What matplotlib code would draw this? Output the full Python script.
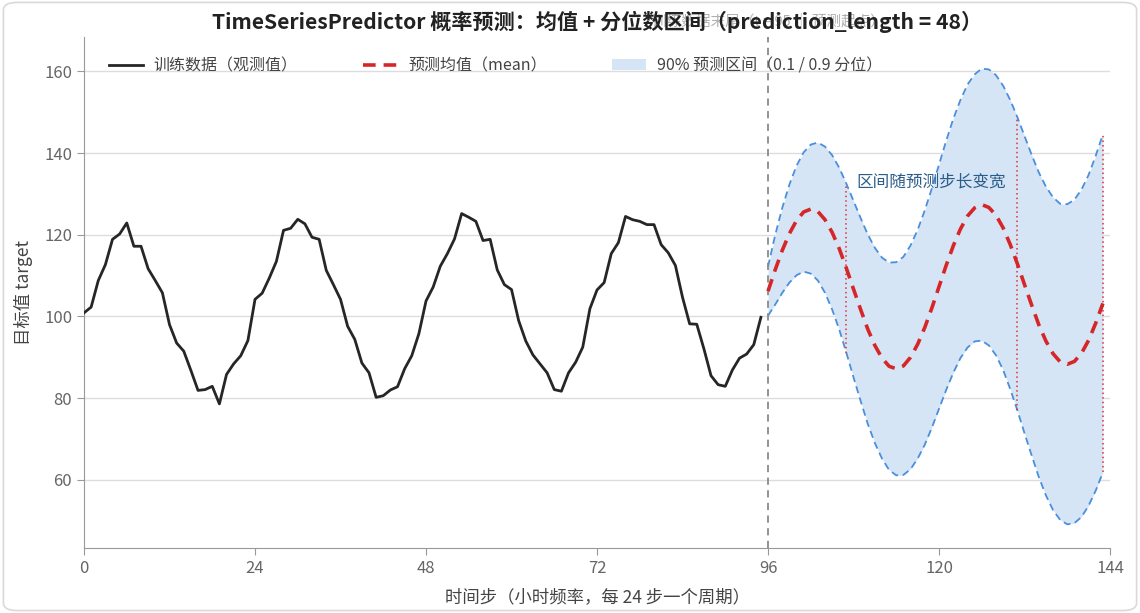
import numpy as np
import matplotlib.pyplot as plt
from matplotlib.patches import FancyBboxPatch, Patch
from matplotlib.lines import Line2D

plt.rcParams['font.family'] = ['Noto Sans CJK SC', 'DejaVu Sans']

# observed training series, t = 0..95
train = [100.9, 102.3, 108.8, 112.7, 118.9, 120.2, 122.9, 117.2, 117.2, 111.7,
         108.8, 105.8, 98.0, 93.5, 91.5, 86.8, 81.9, 82.1, 82.9, 78.6,
         85.8, 88.4, 90.4, 94.1, 104.2, 105.7, 109.4, 113.5, 121.1, 121.6,
         123.8, 122.7, 119.4, 118.9, 111.3, 107.8, 104.2, 97.6, 94.4, 88.6,
         86.2, 80.2, 80.6, 82.0, 82.8, 87.2, 90.4, 95.8, 103.8, 107.2,
         112.3, 115.4, 119.0, 125.2, 124.3, 123.3, 118.6, 118.9, 111.4, 107.8,
         106.6, 99.0, 94.0, 90.6, 88.4, 86.2, 82.1, 81.7, 86.2, 88.8,
         92.5, 101.9, 106.5, 108.3, 115.4, 118.1, 124.5, 123.7, 123.3, 122.5,
         122.5, 117.6, 115.6, 112.5, 104.7, 98.2, 98.1, 92.1, 85.5, 83.3,
         82.9, 86.9, 89.8, 90.8, 93.1, 99.8]

# forecast, t = 96..143
mean = [106.2, 111.4, 116.2, 120.3, 123.5, 125.6, 126.3, 125.7, 123.7, 120.6,
        116.6, 111.8, 106.7, 101.7, 96.9, 92.9, 89.8, 87.8, 87.2, 87.9,
        90.0, 93.2, 97.3, 102.1, 107.3, 112.5, 117.3, 121.4, 124.6, 126.6,
        127.4, 126.7, 124.8, 121.7, 117.6, 112.9, 107.8, 102.8, 98.0, 94.0,
        90.9, 88.9, 88.3, 89.0, 91.0, 94.2, 98.4, 103.2]
upper = [112.2, 119.9, 126.6, 132.3, 136.9, 140.2, 142.1, 142.6, 141.6, 139.5,
         136.4, 132.5, 128.3, 124.1, 120.1, 116.8, 114.4, 113.2, 113.3, 114.6,
         117.4, 121.2, 126.0, 131.4, 137.2, 143.0, 148.4, 153.0, 156.8, 159.3,
         160.7, 160.5, 159.1, 156.5, 153.0, 148.8, 144.2, 139.6, 135.3, 131.8,
         129.2, 127.6, 127.5, 128.6, 131.1, 134.7, 139.4, 144.6]
lower = [100.2, 102.9, 105.8, 108.3, 110.1, 111.0, 110.5, 108.8, 105.8, 101.7,
         96.8, 91.1, 85.1, 79.3, 73.7, 69.0, 65.2, 62.4, 61.1, 61.2,
         62.6, 65.2, 68.6, 72.8, 77.4, 82.0, 86.2, 89.8, 92.4, 93.9,
         94.1, 92.9, 90.5, 86.9, 82.2, 77.0, 71.4, 66.0, 60.7, 56.2,
         52.6, 50.2, 49.1, 49.4, 50.9, 53.7, 57.4, 61.8]

marker_steps = [107, 131, 143]   # interval width markers
t_train = np.arange(len(train))
t_fc = np.arange(96, 96 + len(mean))

fig = plt.figure(figsize=(11.4, 6.13), dpi=100)
ax = fig.add_axes([0.0737, 0.106, 0.9, 0.834])

fig.patches.append(FancyBboxPatch((0.003, 0.004), 0.994, 0.992,
                                  boxstyle='round,pad=0,rounding_size=0.012',
                                  transform=fig.transFigure, fc='none',
                                  ec='#d9d9d9', lw=1.2))

ax.fill_between(t_fc, lower, upper, color='#d5e5f6', lw=0, zorder=1)
ax.plot(t_fc, upper, color='#4a8fdc', lw=1.3, ls=(0, (4, 2.5)), zorder=2)
ax.plot(t_fc, lower, color='#4a8fdc', lw=1.3, ls=(0, (4, 2.5)), zorder=2)
ax.plot(t_train, train, color='#262626', lw=2, zorder=4)
ax.plot(t_fc, mean, color='#d62728', lw=2.6, ls=(0, (3.5, 2.2)), zorder=4)

for s in marker_steps:
    i = s - 96
    ax.vlines(s, lower[i], upper[i], color='#e03030', lw=1.1, ls=(0, (1, 2)), zorder=3)

ax.axvline(96, color='#8a8a8a', lw=1.3, ls=(0, (4, 3)), zorder=3)
ax.text(96, 172.4, '训练数据末尾（t = 95 ｜ 预测起点）', ha='center', va='center',
        fontsize=10.5, color='#b0b0b0', clip_on=False)

ax.text(108.4, 133, '区间随预测步长变宽', fontsize=12, color='#2b5d8a',
        va='center', ha='left', zorder=5)

ax.set_xlim(0, 144)
ax.set_ylim(43.3, 168.5)
ax.set_xticks(np.arange(0, 145, 24))
ax.set_yticks(np.arange(60, 161, 20))
ax.grid(axis='y', color='#dddddd', lw=1)
ax.set_axisbelow(True)
for sp in ['top', 'right']:
    ax.spines[sp].set_visible(False)
for sp in ['left', 'bottom']:
    ax.spines[sp].set_color('#999999')
ax.tick_params(colors='#999999', labelcolor='#666666', labelsize=12, length=5)

ax.set_xlabel('时间步（小时频率，每 24 步一个周期）', fontsize=12.5, color='#444444', labelpad=8)
ax.set_ylabel('目标值 target', fontsize=12.5, color='#444444', labelpad=8)

fig.text(0.5237, 0.964, 'TimeSeriesPredictor 概率预测：均值 + 分位数区间（prediction_length = 48）',
         ha='center', va='center', fontsize=15.2, fontweight='bold', color='#222222')

handles = [Line2D([], [], color='#262626', lw=2),
           Line2D([], [], color='#d62728', lw=2.6, ls=(0, (3.5, 2.2))),
           Patch(fc='#d5e5f6', ec='none')]
labels = ['训练数据（观测值）', '预测均值（mean）', '90% 预测区间（0.1 / 0.9 分位）']
ax.legend(handles, labels, loc='upper left', bbox_to_anchor=(0.012, 0.985), ncol=3,
          frameon=False, fontsize=11.5, labelcolor='#444444', columnspacing=4.1,
          handlelength=2.1, handletextpad=0.7, borderaxespad=0.4)

fig.savefig('out.png', dpi=100)
